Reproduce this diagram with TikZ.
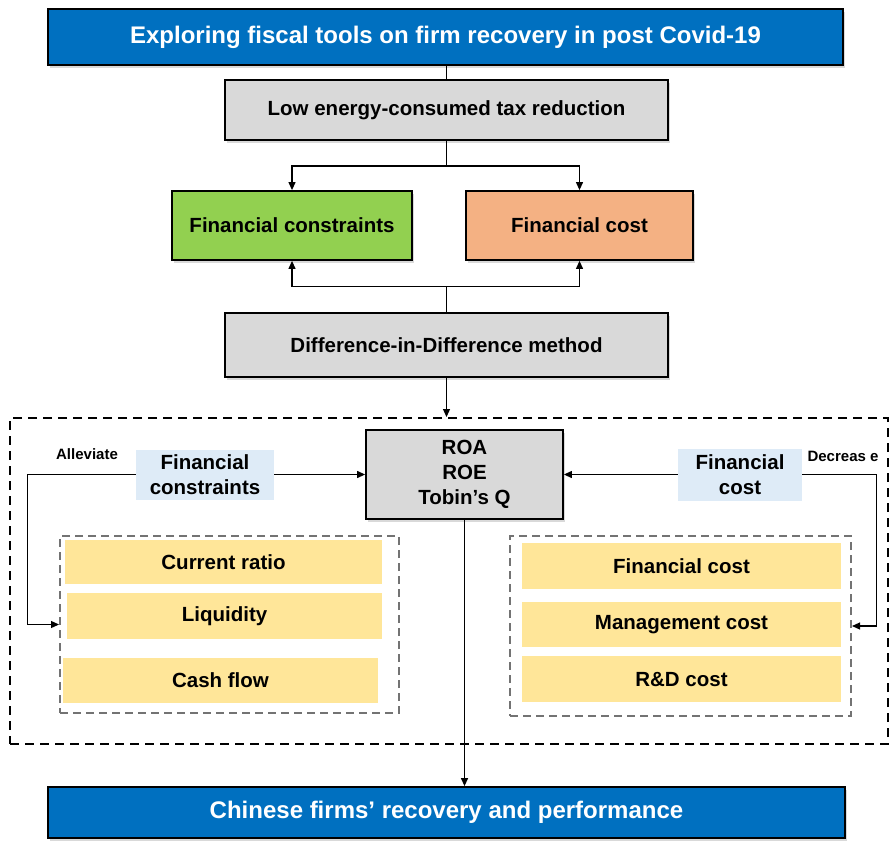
\documentclass[tikz,border=0pt]{standalone}
\usepackage{fontspec}
\setmainfont{Liberation Sans}
\usetikzlibrary{arrows.meta,shadows,calc}
\definecolor{tblue}{HTML}{0070C0}
\definecolor{tgray}{HTML}{D9D9D9}
\definecolor{tgreen}{HTML}{92D050}
\definecolor{torange}{HTML}{F4B183}
\definecolor{tlabel}{HTML}{DEEBF7}
\definecolor{tyellow}{HTML}{FFE699}
\begin{document}
\begin{tikzpicture}[x=1pt,y=-1pt,
  shad/.style={drop shadow={shadow xshift=2pt,shadow yshift=-3pt,opacity=0.3}},
  boxb/.style={draw=black, line width=1.8pt, inner sep=0pt, align=center, shad,
    font=\bfseries\fontsize{20.5}{25}\selectfont},
  bluebox/.style={boxb, fill=tblue, text=white, font=\bfseries\fontsize{24}{28}\selectfont},
  graybox/.style={boxb, fill=tgray},
  lab/.style={fill=tlabel, inner sep=0pt, align=center, font=\bfseries\fontsize{20.5}{25}\selectfont},
  bar/.style={fill=tyellow, inner sep=0pt, font=\bfseries\fontsize{20.5}{25}\selectfont},
  outerdash/.style={draw=black, line width=2pt, dash pattern=on 9pt off 6pt},
  innerdash/.style={draw=black!55, line width=2pt, dash pattern=on 8pt off 5pt},
  conn/.style={draw=black, line width=1.2pt},
  arr/.style={conn, -{Triangle[length=8pt,width=7pt]}},
  note/.style={font=\bfseries\fontsize{15}{18}\selectfont, inner sep=0pt}
]
\useasboundingbox (0,0) rectangle (890,840);

% outer and inner dashed frames
\node[outerdash, minimum width=878pt, minimum height=326pt, inner sep=0pt] (outer) at (449,581) {};
\node[innerdash, minimum width=339pt, minimum height=177pt, inner sep=0pt] (inL) at (229.5,624.5) {};
\node[innerdash, minimum width=341pt, minimum height=180pt, inner sep=0pt] (inR) at (680.5,626) {};

% top chain
\node[bluebox, minimum width=795pt, minimum height=56pt] (title) at (445.5,37) {Exploring fiscal tools on firm recovery in post Covid-19};
\node[graybox, minimum width=443pt, minimum height=60pt] (low) at (446.5,110) {Low energy-consumed tax reduction};
\node[boxb, fill=tgreen, minimum width=240pt, minimum height=69pt] (fcon) at (292,225.5) {Financial constraints};
\node[boxb, fill=torange, minimum width=227pt, minimum height=69pt] (fcost) at (579.5,225.5) {Financial cost};
\node[graybox, minimum width=443pt, minimum height=64pt] (did) at (446.5,345) {Difference-in-Difference method};

% central result
\node[graybox, minimum width=197pt, minimum height=89pt] (roa) at (464.5,474.5) {ROA\\ROE\\Tobin’s Q};

% labels
\node[lab, minimum width=138pt, minimum height=50pt] (lfc) at (205,474.5) {Financial\\constraints};
\node[lab, minimum width=124pt, minimum height=52pt] (rfc) at (740,474.5) {Financial\\cost};
\node[note] (allev) at (87,454) {Alleviate};
\node[note] (decr) at (843,456) {Decreas e};

% bars left
\node[bar, minimum width=317pt, minimum height=44pt] (b1) at (223.5,562) {Current ratio};
\node[bar, minimum width=315pt, minimum height=46pt] (b2) at (224.5,616) {Liquidity};
\node[bar, minimum width=315pt, minimum height=45pt] (b3) at (220.5,680.5) {Cash flow};
% bars right
\node[bar, minimum width=319pt, minimum height=46pt] (c1) at (681.5,566) {Financial cost};
\node[bar, minimum width=319pt, minimum height=45pt] (c2) at (681.5,624.5) {Management cost};
\node[bar, minimum width=319pt, minimum height=46pt] (c3) at (681.5,679) {R\&D cost};

% bottom
\node[bluebox, minimum width=797pt, minimum height=51pt] (bottom) at (446.5,812.5) {Chinese firms’ recovery and performance};

% connectors
\draw[conn] (low.north |- title.south) -- (low.north);
\draw[conn] (low.south) -- ++(0,25) coordinate (split);
\draw[arr] (split) -| (fcon.north);
\draw[arr] (split) -| (fcost.north);
\draw[conn] (did.north) -- ++(0,-26) coordinate (join);
\draw[arr] (join) -| (fcon.south);
\draw[arr] (join) -| (fcost.south);
\draw[arr] (did.south) -- (did.south |- outer.north);
\draw[arr] (lfc.east) -- (lfc.east -| roa.west);
\draw[arr] (rfc.west) -- (rfc.west -| roa.east);
\draw[arr] (lfc.west) -- ++(-108,0) |- (inL.west);
\draw[arr] (rfc.east) -- ++(74,0) |- (inR.east);
\draw[arr] (roa.south) -- (roa.south |- bottom.north);
\end{tikzpicture}
\end{document}
